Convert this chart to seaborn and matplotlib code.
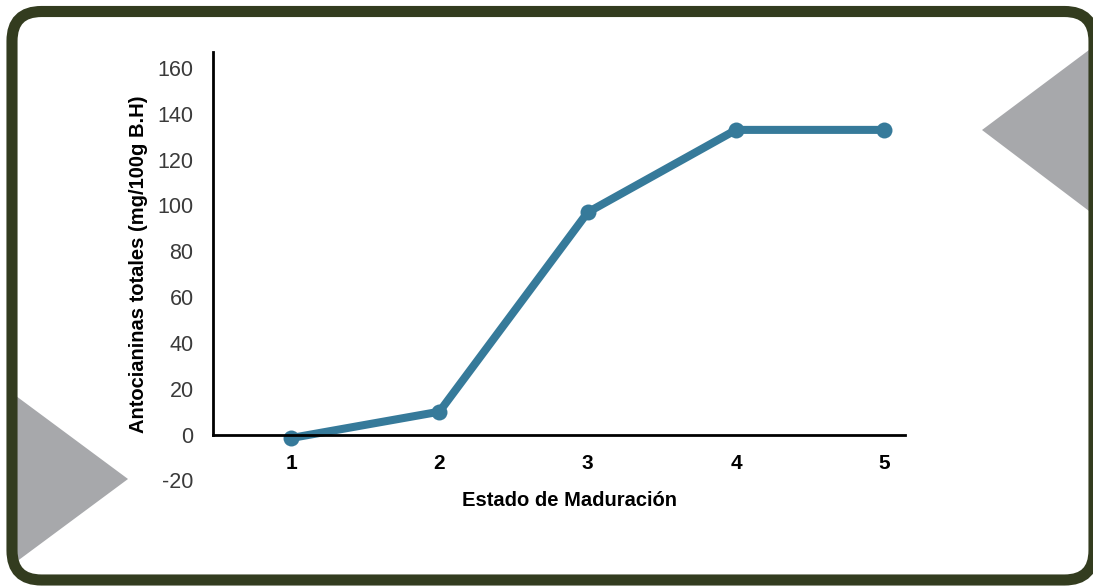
import matplotlib
matplotlib.use("Agg")
import matplotlib.pyplot as plt
from matplotlib.patches import FancyBboxPatch, Polygon
import seaborn as sns
import pandas as pd

# Antocianinas totales por estado de maduración
estados = [1, 2, 3, 4, 5]
antocianinas = [-1.5, 10, 97, 133, 133]
y_ticks = [-20, 0, 20, 40, 60, 80, 100, 120, 140, 160]

df = pd.DataFrame({"estado": estados, "antocianinas": antocianinas})

sns.set_style("white")
plt.rcParams["font.family"] = ["Liberation Sans", "DejaVu Sans"]

W, H = 1093, 588
fig = plt.figure(figsize=(W / 100, H / 100), dpi=100)
fig.patch.set_facecolor("white")

# decorative gray triangles on the frame edges
gray = "#a7a8ab"
fig.patches.append(Polygon([(1093 / W, 1 - 47 / H), (982 / W, 1 - 130 / H), (1093 / W, 1 - 214 / H)],
                           closed=True, transform=fig.transFigure, facecolor=gray,
                           edgecolor="none", zorder=0))
fig.patches.append(Polygon([(12 / W, 1 - 393 / H), (128 / W, 1 - 479 / H), (12 / W, 1 - 565 / H)],
                           closed=True, transform=fig.transFigure, facecolor=gray,
                           edgecolor="none", zorder=0))

# rounded olive frame
frame = FancyBboxPatch((12 / W, 1 - 580 / H), (1094 - 12) / W, (580 - 11.5) / H,
                       boxstyle="round,pad=0,rounding_size=0.027",
                       transform=fig.transFigure, facecolor="none",
                       edgecolor="#333c1f", linewidth=8, zorder=1,
                       mutation_aspect=W / H)
fig.patches.append(frame)

ax = fig.add_axes([213 / W, 1 - 485 / H, (905 - 213) / W, (485 - 52) / H])
ax.set_facecolor("none")

sns.lineplot(data=df, x="estado", y="antocianinas", ax=ax, color="#367a9a",
             linewidth=5.8, marker="o", markersize=11.5, markeredgewidth=0)

# axes styling: bottom spine runs along y = 0, left spine stops there
for s in ["top", "right"]:
    ax.spines[s].set_visible(False)
ax.spines["bottom"].set_position(("data", 0))
ax.spines["left"].set_bounds(0, 167)
for s in ["bottom", "left"]:
    ax.spines[s].set_color("black")
    ax.spines[s].set_linewidth(2)

ax.set_xlim(0.473, 5.14)
ax.set_ylim(-22, 167)
ax.set_xticks(estados)
ax.set_xticklabels([str(e) for e in estados], fontsize=15, fontweight="bold", color="black")
ax.set_yticks(y_ticks)
ax.set_yticklabels([str(v) for v in y_ticks], fontsize=15.5, color="#3a3a3a")
ax.tick_params(axis="both", length=0)
ax.tick_params(axis="x", pad=14)
ax.tick_params(axis="y", pad=14)

ax.set_xlabel("Estado de Maduración", fontsize=14.5, fontweight="bold", color="black")
ax.set_ylabel("Antocianinas totales (mg/100g B.H)", fontsize=14.5, fontweight="bold", color="black")
ax.xaxis.set_label_coords((570 - 213) / (905 - 213), 1 - (500 - 52) / (485 - 52))
ax.yaxis.set_label_coords((138 - 213) / (905 - 213), 1 - (264 - 52) / (485 - 52))
ax.xaxis.label.set_va("center")
ax.yaxis.label.set_va("center")

fig.savefig("out.png", dpi=100)
